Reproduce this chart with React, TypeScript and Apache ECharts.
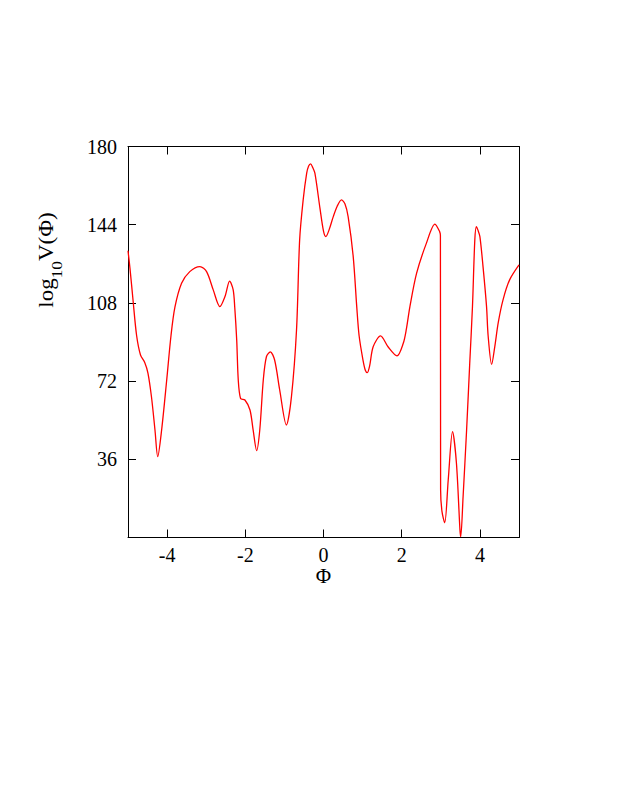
import React, { useEffect, useRef } from "react";
import * as echarts from "echarts";

const phi = [
  -5, -4.95, -4.87, -4.78, -4.68, -4.57, -4.49, -4.4, -4.31, -4.24, -4.14, -4.01, -3.9, -3.8, -3.63,
  -3.42, -3.16, -2.99, -2.82, -2.65, -2.52, -2.4, -2.31, -2.27, -2.22, -2.18, -2.12, -2.01, -1.88,
  -1.8, -1.71, -1.63, -1.54, -1.46, -1.36, -1.25, -1.12, -0.95, -0.82, -0.69, -0.61, -0.52, -0.43,
  -0.38, -0.33, -0.28, -0.22, -0.09, 0.0, 0.06, 0.14, 0.25, 0.35, 0.46, 0.55, 0.63, 0.76, 0.85, 0.91,
  1.01, 1.07, 1.12, 1.18, 1.27, 1.46, 1.65, 1.88, 2.04, 2.12, 2.21, 2.38, 2.63, 2.85, 2.97, 2.99,
  2.995, 3.03, 3.1, 3.19, 3.3, 3.4, 3.49, 3.51, 3.57, 3.66, 3.74, 3.81, 3.87, 3.91, 3.95, 4.0, 4.08,
  4.17, 4.21, 4.3, 4.38, 4.47, 4.59, 4.76, 5.0,
];
const logV = [
  132, 124, 109, 93, 84, 80.5, 75.7, 64.8, 49.5, 37.2, 49.5, 72.5, 93, 106, 117, 122.4, 124.7, 122.4,
  114, 106.3, 110.9, 118, 114, 106, 91, 72.5, 64, 63.3, 58.7, 49.5, 40, 49.5, 72.5, 83.2, 85.5, 81.7,
  67.9, 51.8, 64.8, 95.5, 137, 155.4, 167.7, 171, 172, 170.5, 167.7, 151.5, 141, 138.5, 141.5, 147.7,
  152.5, 155.4, 153.5, 147.7, 129.3, 106.3, 93, 81.7, 77, 75.9, 79, 87.8, 92.8, 87.8, 83.6, 89.4, 96,
  106.3, 121.6, 135.4, 144.3, 140.8, 139, 22, 12, 6.8, 26.5, 48.7, 34.2, 3.5, 0.4, 18.8, 49.5, 80.2,
  106.3, 137, 143.1, 141.5, 138.5, 124.7, 106.3, 93, 79.7, 87.8, 99, 109.3, 118.6, 125.5,
];
const xTicks = [-4, -2, 0, 2, 4];
const yTicks = [36, 72, 108, 144, 180];

const FONT = "Liberation Serif";

export default function App() {
  const ref = useRef<HTMLDivElement>(null);
  useEffect(() => {
    const chart = echarts.init(ref.current!, null, { renderer: "svg" });
    const data = phi.map((x, i) => [x, logV[i]]);
    const axisLineStyle = { color: "#000", width: 1 };
    const tick = { show: true, inside: true, length: 8, lineStyle: axisLineStyle };
    chart.setOption({
      animation: false,
      backgroundColor: "#fff",
      grid: { left: 128, top: 146.5, width: 391, height: 391, containLabel: false },
      xAxis: [
        {
          type: "value",
          min: -5,
          max: 5,
          name: "Φ",
          nameLocation: "middle",
          nameGap: 21,
          nameTextStyle: { fontFamily: FONT, fontSize: 21, color: "#000" },
          axisLine: { show: true, onZero: false, lineStyle: axisLineStyle },
          axisTick: { ...tick, customValues: xTicks },
          axisLabel: { fontFamily: FONT, fontSize: 20, color: "#000", margin: 7, customValues: xTicks },
          splitLine: { show: false },
        },
        {
          type: "value",
          position: "top",
          min: -5,
          max: 5,
          axisLine: { show: true, onZero: false, lineStyle: axisLineStyle },
          axisTick: { ...tick, customValues: xTicks },
          axisLabel: { show: false },
          splitLine: { show: false },
        },
      ],
      yAxis: [
        {
          type: "value",
          min: 0,
          max: 180,
          interval: 36,
          axisLine: { show: true, onZero: false, lineStyle: axisLineStyle },
          axisTick: { ...tick, customValues: yTicks },
          axisLabel: { fontFamily: FONT, fontSize: 20, color: "#000", margin: 11, customValues: yTicks },
          splitLine: { show: false },
        },
        {
          type: "value",
          position: "right",
          min: 0,
          max: 180,
          interval: 36,
          axisLine: { show: true, onZero: false, lineStyle: axisLineStyle },
          axisTick: { ...tick, customValues: yTicks },
          axisLabel: { show: false },
          splitLine: { show: false },
        },
      ],
      graphic: [
        {
          type: "text",
          x: 50,
          y: 260,
          rotation: Math.PI / 2,
          scaleX: 1.15,
          style: {
            text: "{a|log}{s|10}{a|V(Φ)}",
            align: "center",
            verticalAlign: "middle",
            fill: "#000",
            rich: {
              a: { fontFamily: FONT, fontSize: 20, lineHeight: 28, verticalAlign: "top", fill: "#000" },
              s: { fontFamily: FONT, fontSize: 15, lineHeight: 15, verticalAlign: "bottom", fill: "#000" },
            },
          },
        },
      ],
      series: [
        {
          type: "line",
          data,
          xAxisIndex: 0,
          yAxisIndex: 0,
          showSymbol: false,
          smooth: 0.3,
          clip: true,
          lineStyle: { color: "#ff0000", width: 1.3 },
        },
      ],
    });
    return () => chart.dispose();
  }, []);
  return (
    <div
      ref={ref}
      style={{ position: "fixed", left: 0, top: 0, width: 623, height: 806, background: "#fff" }}
    />
  );
}
